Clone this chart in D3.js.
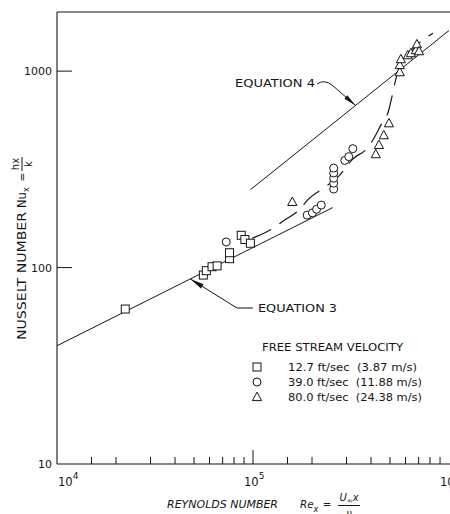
<!DOCTYPE html>
<html>
<head>
<meta charset="utf-8">
<script src="https://cdn.jsdelivr.net/npm/d3@7"></script>
<style>
  body { margin: 0; background: #fff; }
  svg { display: block; }
  text { font-family: "DejaVu Sans", sans-serif; fill: #151515; }
</style>
</head>
<body>
<svg id="chart" width="450" height="514"></svg>
<script>
// ---- axes ----
const xDomain = [1e4, 1e6];
const yDomain = [10, 2000];
const xMajorTicks = [1e4, 1e5, 1e6];
const xMajorExponents = ["4", "5", "6"];
const xMinorTicks = [1.5e4, 2e4, 3e4, 4e4, 5e4, 6e4, 7e4, 8e4, 9e4,
                     1.5e5, 2e5, 3e5, 4e5, 5e5, 6e5, 7e5, 8e5, 9e5];
const yTickValues = [10, 100, 1000];
const yTickLabels = ["10", "100", "1000"];

// ---- correlations (straight in log-log) ----
const equation3 = [[1e4, 40], [2.55e5, 202]];
const equation4 = [[9.7e4, 249], [1e6, 1610]];
// transition curve drawn through the data, dashed
const transition = [
  [99000, 141], [127000, 159], [143000, 173], [175000, 200], [190000, 221],
  [235000, 258], [274000, 292], [323000, 357], [385000, 408], [409000, 446],
  [449000, 531], [493000, 634], [511000, 738], [542000, 955], [600000, 1180],
  [703000, 1387], [828000, 1560]
];

// ---- measurements: [Re_x, Nu_x] ----
const v12_7 = [
  [22300, 61.5], [55800, 91.6], [57800, 96.4], [61800, 101], [65600, 102],
  [75900, 111], [75900, 119], [87100, 146], [90900, 139], [97000, 133]
];
const v39_0 = [
  [73000, 135], [189000, 185], [201000, 190], [211000, 198], [223000, 208],
  [258000, 251], [258000, 269], [258000, 285], [258000, 303], [258000, 321],
  [294000, 351], [308000, 367], [323000, 403]
];
const v80_0 = [
  [158700, 216], [423000, 378], [439000, 421], [465000, 472], [494000, 543],
  [561000, 988], [561000, 1074], [568000, 1151], [616000, 1206], [639000, 1235],
  [678000, 1280], [686000, 1371], [703000, 1264]
];

const legendLabels = ["12.7 ft/sec  (3.87 m/s)", "39.0 ft/sec  (11.88 m/s)", "80.0 ft/sec  (24.38 m/s)"];
const legendWidths = [129, 134, 134];
const legendTitle = "FREE STREAM VELOCITY";

// annotation tips, on each correlation line
const eq3Tip = [47900, 87.5];
const eq4Tip = [334000, 668];

const svg = d3.select("#chart");
const ink = "#151515";

const x = d3.scaleLog().domain(xDomain).range([57, 449]);
const y = d3.scaleLog().domain(yDomain).range([464, 12]);

// stretched label helper
function label(g, tx, ty, str, size, width, extra) {
  const t = g.append("text").attr("x", tx).attr("y", ty).attr("font-size", size)
    .style("white-space", "pre").text(str);
  if (width) t.attr("textLength", width).attr("lengthAdjust", "spacingAndGlyphs");
  if (extra) extra(t);
  return t;
}

// frame: left, bottom, top
const frame = svg.append("g").attr("stroke", ink).attr("stroke-width", 1.1).attr("fill", "none");
frame.append("line").attr("x1", x(xDomain[0])).attr("x2", x(xDomain[0])).attr("y1", y(yDomain[1])).attr("y2", y(yDomain[0]));
frame.append("line").attr("x1", x(xDomain[0])).attr("x2", 450).attr("y1", y(yDomain[0])).attr("y2", y(yDomain[0]));
frame.append("line").attr("x1", x(xDomain[0])).attr("x2", 450).attr("y1", y(yDomain[1])).attr("y2", y(yDomain[1]));

// bottom ticks point inward (upward)
const ticks = svg.append("g").attr("stroke", ink).attr("stroke-width", 1);
ticks.selectAll(".xminor").data(xMinorTicks).join("line")
  .attr("x1", d => x(d)).attr("x2", d => x(d))
  .attr("y1", y(yDomain[0])).attr("y2", y(yDomain[0]) - 7);
ticks.selectAll(".xmajor").data(xMajorTicks.slice(1, 2)).join("line")
  .attr("x1", d => x(d)).attr("x2", d => x(d))
  .attr("y1", y(yDomain[0])).attr("y2", y(yDomain[0]) - 14);
ticks.selectAll(".ymajor").data(yTickValues.slice(1)).join("line")
  .attr("x1", x(xDomain[0])).attr("x2", x(xDomain[0]) + 15)
  .attr("y1", d => y(d)).attr("y2", d => y(d));

// y tick labels
svg.append("g").selectAll("text").data(yTickValues).join("text")
  .attr("x", 52).attr("y", d => y(d) + 4)
  .attr("text-anchor", "end").attr("font-size", 11)
  .text((d, i) => yTickLabels[i]);

// x tick labels 10^n
const xl = svg.append("g").selectAll("text").data(xMajorTicks).join("text")
  .attr("x", (d, i) => i === 0 ? x(d) + 1 : x(d) - 9)
  .attr("y", 486).attr("font-size", 11.5);
xl.append("tspan").text("10");
xl.append("tspan").attr("dy", -7).attr("font-size", 9).text((d, i) => xMajorExponents[i]);

// correlation lines
const line = d3.line().x(d => x(d[0])).y(d => y(d[1]));
svg.append("path").datum(equation3).attr("d", line)
  .attr("fill", "none").attr("stroke", ink).attr("stroke-width", 1);
svg.append("path").datum(equation4).attr("d", line)
  .attr("fill", "none").attr("stroke", ink).attr("stroke-width", 1);
svg.append("path").datum(transition)
  .attr("d", d3.line().x(d => x(d[0])).y(d => y(d[1])).curve(d3.curveMonotoneX))
  .attr("fill", "none").attr("stroke", ink).attr("stroke-width", 1.2)
  .attr("stroke-dasharray", "21,10");

// annotations with arrows
function arrowHead(g, tip, from, len, hw) {
  const dx = from[0] - tip[0], dy = from[1] - tip[1];
  const L = Math.hypot(dx, dy), ux = dx / L, uy = dy / L;
  const bx = tip[0] + ux * len, by = tip[1] + uy * len;
  g.append("path")
    .attr("d", `M${tip[0]},${tip[1]}L${bx - uy * hw},${by + ux * hw}L${bx + uy * hw},${by - ux * hw}Z`)
    .attr("fill", ink);
}
const ann = svg.append("g");
const t4 = [x(eq4Tip[0]), y(eq4Tip[1])];
ann.append("path")
  .attr("d", `M317,84 Q324,79 332,85 L${t4[0]},${t4[1]}`)
  .attr("fill", "none").attr("stroke", ink).attr("stroke-width", 1);
arrowHead(ann, t4, [332, 85], 13, 2.2);
label(ann, 235, 87, "EQUATION 4", 11, 80);

const t3 = [x(eq3Tip[0]), y(eq3Tip[1])];
ann.append("path")
  .attr("d", `M253,308 L237,308 L${t3[0]},${t3[1]}`)
  .attr("fill", "none").attr("stroke", ink).attr("stroke-width", 1);
arrowHead(ann, t3, [237, 308], 14, 2.4);
label(ann, 258, 312, "EQUATION 3", 11, 79);

// markers
const pts = svg.append("g").attr("fill", "#fff").attr("stroke", ink).attr("stroke-width", 1);
function square(g, cx, cy) {
  g.append("rect").attr("x", cx - 4).attr("y", cy - 4).attr("width", 8).attr("height", 8);
}
function circle(g, cx, cy) {
  g.append("circle").attr("cx", cx).attr("cy", cy).attr("r", 4);
}
function triangle(g, cx, cy) {
  g.append("path").attr("d", `M${cx},${cy - 4.8}L${cx + 4.6},${cy + 3.6}L${cx - 4.6},${cy + 3.6}Z`);
}
v12_7.forEach(d => square(pts, x(d[0]), y(d[1])));
v39_0.forEach(d => circle(pts, x(d[0]), y(d[1])));
v80_0.forEach(d => triangle(pts, x(d[0]), y(d[1])));

// legend
const lg = svg.append("g");
label(lg, 262, 351, legendTitle, 10.5, 141);
const lsym = lg.append("g").attr("fill", "#fff").attr("stroke", ink).attr("stroke-width", 1);
square(lsym, 257, 367);
circle(lsym, 257, 382);
triangle(lsym, 257, 397);
legendLabels.forEach((s, i) => label(lg, 288, 371 + i * 15, s, 10.3, legendWidths[i]));

// y title (rotated), reading upward
const yt = svg.append("g").attr("transform", "translate(26,340) rotate(-90)");
label(yt, 0, 0, "NUSSELT NUMBER", 11.5, 128);
const nu = yt.append("text").attr("x", 132).attr("y", 0).attr("font-size", 11.5);
nu.append("tspan").text("Nu");
nu.append("tspan").attr("dy", 3).attr("font-size", 8).text("x");
yt.append("text").attr("x", 163).attr("y", 0).attr("text-anchor", "middle").attr("font-size", 10.5).text("=");
yt.append("text").attr("x", 176).attr("y", -7).attr("text-anchor", "middle").attr("font-size", 10).text("hx");
yt.append("line").attr("x1", 169).attr("x2", 183).attr("y1", -4).attr("y2", -4).attr("stroke", ink);
yt.append("text").attr("x", 176).attr("y", 6).attr("text-anchor", "middle").attr("font-size", 10).text("k");

// x title
const xtg = svg.append("g").attr("font-style", "italic");
label(xtg, 167, 508, "REYNOLDS NUMBER", 10.3, 111, t => t.attr("font-style", "italic"));
const re = xtg.append("text").attr("x", 300).attr("y", 508).attr("font-size", 10.3).attr("font-style", "italic");
re.append("tspan").text("Re");
re.append("tspan").attr("dy", 4).attr("font-size", 8).text("x");
xtg.append("text").attr("x", 327).attr("y", 508).attr("text-anchor", "middle").attr("font-size", 10).text("=");
const num = xtg.append("text").attr("x", 349).attr("y", 501).attr("text-anchor", "middle")
  .attr("font-size", 10).attr("font-style", "italic");
num.append("tspan").text("U");
num.append("tspan").attr("dy", 2).attr("font-size", 7).text("∞");
num.append("tspan").attr("dy", -2).text("x");
xtg.append("line").attr("x1", 338).attr("x2", 360).attr("y1", 505.5).attr("y2", 505.5).attr("stroke", ink);
xtg.append("text").attr("x", 349).attr("y", 517).attr("text-anchor", "middle")
  .attr("font-size", 10).attr("font-style", "italic").text("ν");
</script>
</body>
</html>
